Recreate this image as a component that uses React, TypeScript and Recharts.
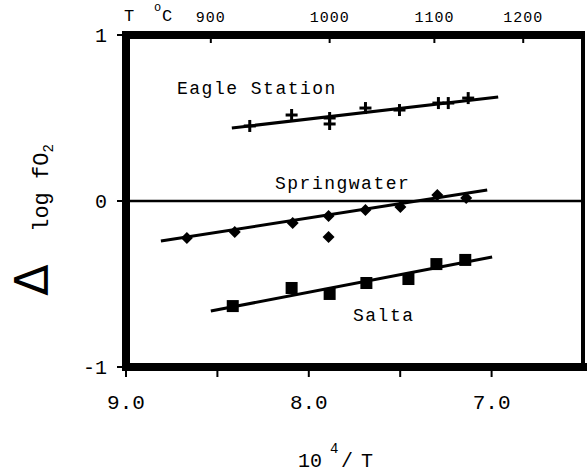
import React from 'react';
import {
  ComposedChart,
  Scatter,
  XAxis,
  YAxis,
  ReferenceLine,
} from 'recharts';

// 10^4/T values (x) and delta log fO2 (y)
const eagleStation = [
  { x: 8.323, y: 0.452 },
  { x: 8.094, y: 0.518 },
  { x: 7.886, y: 0.5 },
  { x: 7.886, y: 0.464 },
  { x: 7.69, y: 0.56 },
  { x: 7.504, y: 0.548 },
  { x: 7.291, y: 0.59 },
  { x: 7.237, y: 0.59 },
  { x: 7.128, y: 0.62 },
];
const eagleFit = [
  { x: 8.421, y: 0.44 },
  { x: 6.964, y: 0.627 },
];

const springwater = [
  { x: 8.667, y: -0.223 },
  { x: 8.405, y: -0.187 },
  { x: 8.088, y: -0.133 },
  { x: 7.892, y: -0.09 },
  { x: 7.892, y: -0.217 },
  { x: 7.69, y: -0.054 },
  { x: 7.499, y: -0.036 },
  { x: 7.297, y: 0.036 },
  { x: 7.139, y: 0.018 },
];
const springwaterFit = [
  { x: 8.809, y: -0.241 },
  { x: 7.024, y: 0.066 },
];

const salta = [
  { x: 8.416, y: -0.633 },
  { x: 8.094, y: -0.524 },
  { x: 7.886, y: -0.56 },
  { x: 7.685, y: -0.494 },
  { x: 7.455, y: -0.47 },
  { x: 7.302, y: -0.38 },
  { x: 7.144, y: -0.355 },
];
const saltaFit = [
  { x: 8.536, y: -0.663 },
  { x: 6.997, y: -0.337 },
];

const X_MIN = 6.5;
const X_MAX = 9.0;
const Y_MIN = -1;
const Y_MAX = 1;

const bottomTicks = [9.0, 8.5, 8.0, 7.5, 7.0];
const bottomLabels = ['9.0', '', '8.0', '', '7.0'];
// T in degrees C, placed where the figure prints them on the 10^4/T scale
const topTicks = [8.536, 7.886, 7.313, 6.827];
const topLabels = ['900', '1000', '1100', '1200'];
const yTicks = [1, 0, -1];

const FONT = "'Liberation Mono', monospace";

// plot box in page pixels
const W = 588;
const H = 473;
const PLOT_LEFT = 126;
const PLOT_TOP = 35;
const PLOT_RIGHT = 583;
const PLOT_BOTTOM = 367;
const Y_AXIS_W = 40;
const X_AXIS_H = 50;
const TOP_AXIS_H = 30;

const Plus = (props: any) => {
  const { cx, cy } = props;
  return (
    <g stroke="#000" strokeWidth={3}>
      <line x1={cx - 6} y1={cy} x2={cx + 6} y2={cy} />
      <line x1={cx} y1={cy - 6} x2={cx} y2={cy + 6} />
    </g>
  );
};

const Diamond = (props: any) => {
  const { cx, cy } = props;
  const r = 6;
  return <polygon points={`${cx},${cy - r} ${cx + r},${cy} ${cx},${cy + r} ${cx - r},${cy}`} fill="#000" />;
};

const Square = (props: any) => {
  const { cx, cy } = props;
  return <rect x={cx - 6} y={cy - 6} width={12} height={12} fill="#000" />;
};

const NoShape = () => <g />;

const BottomTick = (props: any) => {
  const { x, y, index } = props;
  const label = bottomLabels[index];
  if (!label) return <g />;
  return (
    <text x={x} y={y} dy="0.71em" textAnchor="middle" fontFamily={FONT} fontSize={21} fill="#000">
      {label}
    </text>
  );
};

const TopTick = (props: any) => {
  const { x, y, index } = props;
  return (
    <g>
      <text x={x} y={y} textAnchor="middle" fontFamily={FONT} fontSize={15} letterSpacing={1} fill="#000">
        {topLabels[index]}
      </text>
      <line x1={x} y1={y + 13} x2={x} y2={y + 21} stroke="#000" strokeWidth={2} />
    </g>
  );
};

const fitLine = { stroke: '#000', strokeWidth: 3 };
const border = { stroke: '#000', strokeWidth: 8, strokeLinecap: 'square' };

export default function App() {
  return (
    <div style={{ position: 'absolute', left: 0, top: 0, width: W, height: H, background: '#fff' }}>
      <ComposedChart
        width={W}
        height={H}
        margin={{
          top: PLOT_TOP - TOP_AXIS_H,
          right: W - PLOT_RIGHT - 1,
          bottom: H - PLOT_BOTTOM - X_AXIS_H,
          left: PLOT_LEFT - Y_AXIS_W,
        }}
      >
        <XAxis
          xAxisId="bottom"
          dataKey="x"
          type="number"
          domain={[X_MIN, X_MAX]}
          reversed
          allowDataOverflow
          ticks={bottomTicks}
          interval={0}
          height={X_AXIS_H}
          axisLine={border}
          tickLine={{ stroke: '#000', strokeWidth: 2 }}
          tickSize={10}
          tickMargin={17}
          tick={<BottomTick />}
        />
        <XAxis
          xAxisId="top"
          orientation="top"
          dataKey="x"
          type="number"
          domain={[X_MIN, X_MAX]}
          reversed
          allowDataOverflow
          ticks={topTicks}
          interval={0}
          height={TOP_AXIS_H}
          axisLine={false}
          tickLine={false}
          tickSize={0}
          tickMargin={13}
          tick={<TopTick />}
        />
        <YAxis
          yAxisId="left"
          dataKey="y"
          type="number"
          domain={[Y_MIN, Y_MAX]}
          allowDataOverflow
          ticks={yTicks}
          interval={0}
          width={Y_AXIS_W}
          axisLine={border}
          tickLine={{ stroke: '#000', strokeWidth: 2 }}
          tickSize={9}
          tickMargin={10}
          tick={{ fill: '#000', fontFamily: FONT, fontSize: 20 }}
        />
        <YAxis
          yAxisId="right"
          orientation="right"
          dataKey="y"
          type="number"
          domain={[Y_MIN, Y_MAX]}
          allowDataOverflow
          width={1}
          axisLine={false}
          tick={false}
          tickLine={false}
        />

        <ReferenceLine xAxisId="bottom" yAxisId="left" y={0} stroke="#000" strokeWidth={2.5} />

        {/* invisible series so the top axis gets drawn */}
        <Scatter xAxisId="top" yAxisId="right" data={eagleFit} shape={<NoShape />} isAnimationActive={false} />

        <Scatter xAxisId="bottom" yAxisId="left" data={eagleFit} line={fitLine} shape={<NoShape />} isAnimationActive={false} />
        <Scatter xAxisId="bottom" yAxisId="left" data={springwaterFit} line={fitLine} shape={<NoShape />} isAnimationActive={false} />
        <Scatter xAxisId="bottom" yAxisId="left" data={saltaFit} line={fitLine} shape={<NoShape />} isAnimationActive={false} />

        <Scatter xAxisId="bottom" yAxisId="left" data={eagleStation} shape={<Plus />} isAnimationActive={false} />
        <Scatter xAxisId="bottom" yAxisId="left" data={springwater} shape={<Diamond />} isAnimationActive={false} />
        <Scatter xAxisId="bottom" yAxisId="left" data={salta} shape={<Square />} isAnimationActive={false} />
      </ComposedChart>

      <svg
        width={W}
        height={H}
        style={{ position: 'absolute', left: 0, top: 0, pointerEvents: 'none' }}
        fontFamily={FONT}
        fill="#000"
      >
        {/* frame: heavy top edge, lighter right edge */}
        <rect x={PLOT_LEFT - 4} y={PLOT_TOP - 4} width={PLOT_RIGHT - PLOT_LEFT + 6} height={8} fill="#000" />
        <rect x={PLOT_RIGHT - 2} y={PLOT_TOP} width={4} height={PLOT_BOTTOM - PLOT_TOP} fill="#000" />

        {/* top axis caption */}
        <text x={124} y={21} fontSize={17}>T</text>
        <text x={154} y={11} fontSize={12}>o</text>
        <text x={162} y={21} fontSize={17}>C</text>

        {/* series labels */}
        <text x={177} y={94} fontSize={18} letterSpacing={1.5}>Eagle Station</text>
        <text x={275} y={189} fontSize={18} letterSpacing={1.5}>Springwater</text>
        <text x={353} y={321} fontSize={18} letterSpacing={1.5}>Salta</text>

        {/* x title */}
        <text x={298} y={467} fontSize={20}>10</text>
        <text x={330} y={453} fontSize={14}>4</text>
        <text x={341} y={467} fontSize={20}>/</text>
        <text x={361} y={467} fontSize={20}>T</text>

        {/* y title */}
        <g transform="translate(48, 188) rotate(-90)">
          <text x={0} y={0} textAnchor="middle" fontSize={22}>
            log fO<tspan fontSize={14} dy={5}>2</tspan>
          </text>
        </g>
        <g transform="translate(48, 280) rotate(-90)">
          <text x={0} y={0} textAnchor="middle" fontFamily="'DejaVu Sans', sans-serif" fontSize={46}>
            Δ
          </text>
        </g>
      </svg>
    </div>
  );
}
